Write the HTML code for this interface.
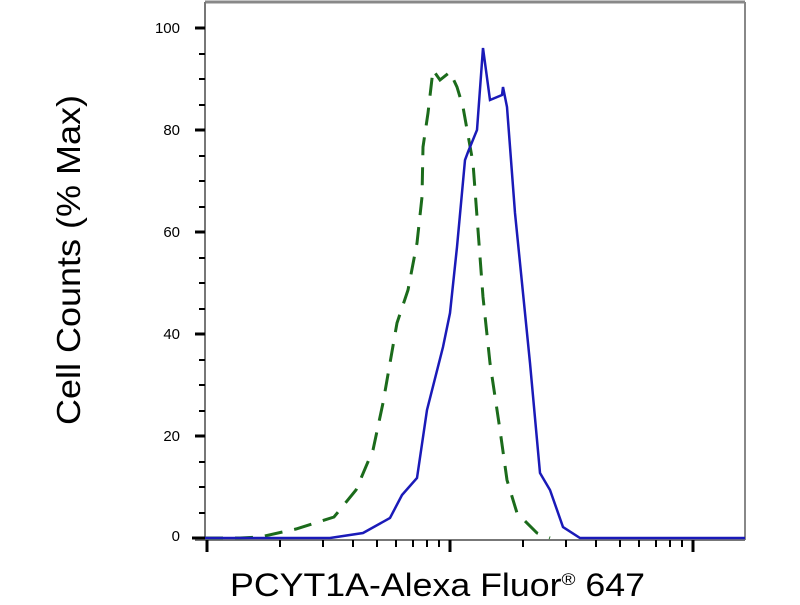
<!DOCTYPE html><html><head><style>body{margin:0;background:#fff}</style></head><body>
<svg width="800" height="600" xmlns="http://www.w3.org/2000/svg" font-family="Liberation Sans, sans-serif">
<rect width="800" height="600" fill="#fff"/>
<line x1="205" y1="2" x2="745" y2="2" stroke="#888" stroke-width="3"/>
<line x1="745" y1="2" x2="745" y2="540" stroke="#888" stroke-width="2"/>
<line x1="205" y1="2" x2="205" y2="540" stroke="#777" stroke-width="2"/>
<line x1="195" y1="540" x2="745" y2="540" stroke="#777" stroke-width="2"/>
<g stroke="#000" stroke-width="3">
<line x1="195" y1="28" x2="205" y2="28"/><line x1="195" y1="130" x2="205" y2="130"/><line x1="195" y1="232" x2="205" y2="232"/><line x1="195" y1="334" x2="205" y2="334"/><line x1="195" y1="436" x2="205" y2="436"/><line x1="192" y1="538" x2="205" y2="538"/>
</g>
<g stroke="#000" stroke-width="2">
<line x1="199" y1="54" x2="205" y2="54"/><line x1="199" y1="79" x2="205" y2="79"/><line x1="199" y1="105" x2="205" y2="105"/>
<line x1="199" y1="156" x2="205" y2="156"/><line x1="199" y1="181" x2="205" y2="181"/><line x1="199" y1="207" x2="205" y2="207"/>
<line x1="199" y1="258" x2="205" y2="258"/><line x1="199" y1="283" x2="205" y2="283"/><line x1="199" y1="309" x2="205" y2="309"/>
<line x1="199" y1="360" x2="205" y2="360"/><line x1="199" y1="385" x2="205" y2="385"/><line x1="199" y1="411" x2="205" y2="411"/>
<line x1="199" y1="462" x2="205" y2="462"/><line x1="199" y1="487" x2="205" y2="487"/><line x1="199" y1="513" x2="205" y2="513"/>
</g>
<g stroke="#000" stroke-width="3">
<line x1="207" y1="540" x2="207" y2="552"/><line x1="450" y1="540" x2="450" y2="552"/><line x1="693" y1="540" x2="693" y2="552"/>
</g>
<g stroke="#000" stroke-width="2">
<line x1="280" y1="540" x2="280" y2="547"/><line x1="323" y1="540" x2="323" y2="547"/><line x1="353" y1="540" x2="353" y2="547"/><line x1="377" y1="540" x2="377" y2="547"/><line x1="396" y1="540" x2="396" y2="547"/><line x1="413" y1="540" x2="413" y2="547"/><line x1="427" y1="540" x2="427" y2="547"/><line x1="439" y1="540" x2="439" y2="547"/>
<line x1="523" y1="540" x2="523" y2="547"/><line x1="566" y1="540" x2="566" y2="547"/><line x1="596" y1="540" x2="596" y2="547"/><line x1="620" y1="540" x2="620" y2="547"/><line x1="639" y1="540" x2="639" y2="547"/><line x1="656" y1="540" x2="656" y2="547"/><line x1="670" y1="540" x2="670" y2="547"/><line x1="682" y1="540" x2="682" y2="547"/>
</g>
<g font-size="15" text-anchor="end" fill="#000">
<text x="180" y="33">100</text><text x="180" y="135">80</text><text x="180" y="237">60</text><text x="180" y="339">40</text><text x="180" y="441">20</text><text x="180" y="541">0</text>
</g>
<polyline fill="none" stroke="#1b6b1b" stroke-width="3" stroke-dasharray="18,12" points="205,538 240,538 260,537 296,529 334,517 356,490 373,450 383,403 397,323 408,290 417,243 422,197 423,147 428,113 433,70 440,80 450,72 457,87 463,107 473,163 478,230 483,297 490,363 500,430 507,480 517,513 537,533 550,538"/>
<polyline fill="none" stroke="#1a1ab8" stroke-width="2.5" points="205,538 330,538 363,533 390,518 402,495 417,478 427,410 443,347 450,313 457,247 465,160 468,152 477,130 483,48 490,100 502,95 503,87 507,107 515,213 530,363 540,473 550,490 563,527 580,538 745,538"/>
<text x="80" y="260" font-size="33" text-anchor="middle" textLength="330" lengthAdjust="spacingAndGlyphs" transform="rotate(-90 80 260)">Cell Counts (% Max)</text>
<text x="230" y="596" font-size="32" textLength="415" lengthAdjust="spacingAndGlyphs">PCYT1A-Alexa Fluor<tspan font-size="17" dy="-11">®</tspan><tspan dy="11"> 647</tspan></text>
</svg></body></html>
